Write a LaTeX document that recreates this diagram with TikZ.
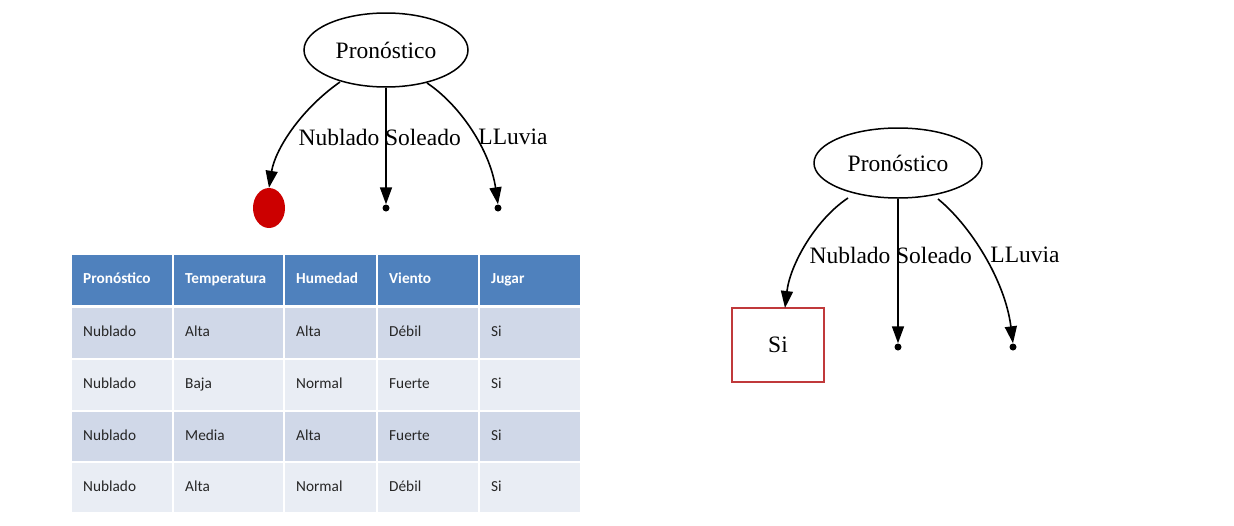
\documentclass[tikz,border=0pt]{standalone}
\usepackage{fontspec}
\setmainfont{Liberation Serif}
\newfontfamily\tabfont{Carlito}
\usetikzlibrary{arrows.meta,shapes.geometric}
\definecolor{hdr}{HTML}{4F81BD}
\definecolor{rowA}{HTML}{D0D8E8}
\definecolor{rowB}{HTML}{E9EDF4}
\definecolor{gvred}{HTML}{CC0000}
\definecolor{boxred}{HTML}{C0393B}
\definecolor{bodytxt}{HTML}{262626}
\begin{document}
\begin{tikzpicture}[x=1pt,y=-1pt,
  tnode/.style={ellipse,draw,line width=1.5pt,inner sep=0pt,font=\fontsize{23.5}{23.5}\selectfont},
  lbl/.style={font=\fontsize{23.5}{23.5}\selectfont,inner sep=0pt},
  gedge/.style={line width=1.6pt,-{Triangle[length=17pt,width=12pt]}},
  gpoint/.style={circle,fill=black,minimum size=7pt,inner sep=0pt},
  cell/.style={rectangle,anchor=north west,inner xsep=11pt,inner ysep=0pt,align=left,text height=11pt,text depth=3.5pt,font=\tabfont\fontsize{15.3}{17}\selectfont},
  hcell/.style={cell,fill=hdr,text=white,font=\tabfont\bfseries\fontsize{15.3}{17}\selectfont},
  bcellA/.style={cell,fill=rowA,text=bodytxt},
  bcellB/.style={cell,fill=rowB,text=bodytxt},
]
\useasboundingbox (0,0) rectangle (1234,525);
\fill[white] (0,0) rectangle (1234,525);

% ---------- Tree 1 ----------
\node[tnode,minimum width=164pt,minimum height=74pt] (p1) at (386,50) {Pronóstico};
\node[ellipse,fill=gvred,minimum width=32pt,minimum height=40pt,inner sep=0pt] (r1) at (269,208) {};
\node[gpoint] (s1) at (386,208) {};
\node[gpoint] (l1) at (498,208) {};
\coordinate (p1a) at (340,82);
\coordinate (p1c) at (427,83);
\draw[gedge] (p1a) .. controls (300,110) and (275,150) .. (r1.north);
\draw[gedge] (p1.south) -- (s1.north);
\draw[gedge] (p1c) .. controls (460,105) and (490,150) .. (l1.north);
\node[lbl] (n1) at (339,137) {Nublado};
\node[lbl] (o1) at (423,137) {Soleado};
\node[lbl] (v1) at (513,137) {LLuvia};

% ---------- Table ----------
\def\colx{{72,174,285,378,480}}
\def\colw{{100,109,91,100,100}}
\def\rowy{{255,308,360,412,463}}
\def\rowh{{50,50,50,49,49}}
\foreach \t [count=\c from 0] in {Pronóstico,Temperatura,Humedad,Viento,Jugar}{
  \pgfmathsetmacro{\xx}{\colx[\c]}
  \pgfmathsetmacro{\ww}{\colw[\c]-22}
  \node[hcell,text width=\ww pt,minimum height=50pt] (h\c) at (\xx,255) {\t};
}
\foreach \r/\a/\b/\cc/\d/\e in {1/Nublado/Alta/Alta/Débil/Si,2/Nublado/Baja/Normal/Fuerte/Si,3/Nublado/Media/Alta/Fuerte/Si,4/Nublado/Alta/Normal/Débil/Si}{
  \pgfmathsetmacro{\yy}{\rowy[\r]}
  \pgfmathsetmacro{\hh}{\rowh[\r]}
  \pgfmathtruncatemacro{\odd}{mod(\r,2)}
  \ifnum\odd=1 \def\sty{bcellA}\else\def\sty{bcellB}\fi
  \foreach \t [count=\c from 0] in {\a,\b,\cc,\d,\e}{
    \pgfmathsetmacro{\xx}{\colx[\c]}
    \pgfmathsetmacro{\ww}{\colw[\c]-22}
    \node[\sty,text width=\ww pt,minimum height=\hh pt] (t\r\c) at (\xx,\yy) {\t};
  }
}

% ---------- Tree 2 ----------
\node[tnode,minimum width=168pt,minimum height=70pt] (p2) at (898,163) {Pronóstico};
\node[rectangle,draw=boxred,line width=1.5pt,minimum width=92pt,minimum height=74pt,inner sep=0pt,font=\fontsize{23.5}{23.5}\selectfont] (si) at (778,345) {Si};
\node[gpoint] (s2) at (898,347) {};
\node[gpoint] (l2) at (1013,347) {};
\coordinate (p2a) at (848,198);
\coordinate (p2c) at (938,199);
\coordinate (sitop) at (785,308);
\draw[gedge] (p2a) .. controls (815,220) and (790,265) .. (sitop);
\draw[gedge] (p2.south) -- (s2.north);
\draw[gedge] (p2c) .. controls (970,225) and (1005,280) .. (l2.north);
\node[lbl] (n2) at (850,255) {Nublado};
\node[lbl] (o2) at (934,255) {Soleado};
\node[lbl] (v2) at (1025,255) {LLuvia};
\end{tikzpicture}
\end{document}
